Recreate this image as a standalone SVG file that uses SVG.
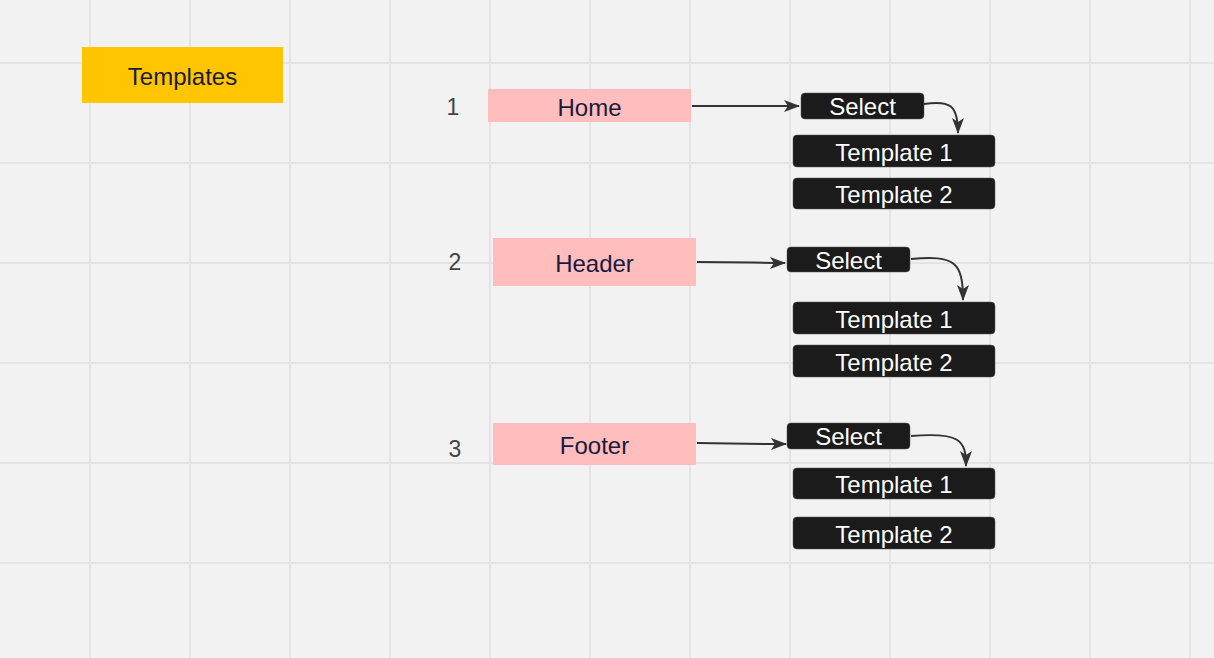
<svg xmlns="http://www.w3.org/2000/svg" width="1214" height="658" viewBox="0 0 1214 658">
<defs>
<style>
.grid{stroke:#e4e4e4;stroke-width:2}
.pink{fill:#ffbdbd}
.dark{fill:#1b1b1b;stroke:#555;stroke-width:0.5}
.lbl{font-family:"Liberation Sans",Arial,sans-serif;font-size:24px;text-anchor:middle;dominant-baseline:central}
.navy{fill:#1a1a3c}
.white{fill:#ffffff}
.num{font-family:"Liberation Sans",Arial,sans-serif;font-size:23px;fill:#444;text-anchor:middle;dominant-baseline:central}
.conn{fill:none;stroke:#333;stroke-width:2}
</style>
<marker id="ah2" viewBox="0 0 16 12" refX="15" refY="6" markerWidth="16" markerHeight="12" markerUnits="userSpaceOnUse" orient="auto">
<path d="M0,0 L16,6 L0,12 L4,6 Z" fill="#333"/>
</marker>
</defs>
<rect width="1214" height="658" fill="#f2f2f2"/>
<g id="grid">
<path class="grid" d="M90,0V658M190,0V658M290,0V658M390,0V658M490,0V658M590,0V658M690,0V658M790,0V658M890,0V658M990,0V658M1090,0V658M1190,0V658M0,63H1214M0,163H1214M0,263H1214M0,363H1214M0,463H1214M0,563H1214"/>
</g>
<g id="connectors">
<path class="conn" d="M692,106 L799,106" marker-end="url(#ah2)"/>
<path class="conn" d="M924,104 C950,100 958,105 958,133" marker-end="url(#ah2)"/>
<path class="conn" d="M697,262 C740,262 760,263 785,263" marker-end="url(#ah2)"/>
<path class="conn" d="M911,259 C955,255 963,262 963,300" marker-end="url(#ah2)"/>
<path class="conn" d="M697,443 C740,444 760,444 786,444" marker-end="url(#ah2)"/>
<path class="conn" d="M911,436 C960,432 966,440 966,466" marker-end="url(#ah2)"/>
</g>
<g id="templates"><rect x="82" y="47" width="201" height="56" fill="#ffc600"/><text class="lbl navy" x="182.5" y="76">Templates</text></g>
<g id="num1"><text class="num" x="453" y="107">1</text></g>
<g id="num2"><text class="num" x="455" y="262">2</text></g>
<g id="num3"><text class="num" x="455" y="449">3</text></g>
<g id="home"><rect class="pink" x="488" y="89" width="203" height="33"/><text class="lbl navy" x="589.5" y="107">Home</text></g>
<g id="header"><rect class="pink" x="493" y="238" width="203" height="48"/><text class="lbl navy" x="594.5" y="263">Header</text></g>
<g id="footer"><rect class="pink" x="493" y="423" width="203" height="42"/><text class="lbl navy" x="594.5" y="445">Footer</text></g>
<g id="select1"><rect class="dark" x="801" y="93" width="123" height="26" rx="4"/><text class="lbl white" x="862.5" y="106">Select</text></g>
<g id="t1a"><rect class="dark" x="793" y="135" width="202" height="32" rx="4"/><text class="lbl white" x="894" y="152">Template 1</text></g>
<g id="t2a"><rect class="dark" x="793" y="178" width="202" height="31" rx="4"/><text class="lbl white" x="894" y="194">Template 2</text></g>
<g id="select2"><rect class="dark" x="787" y="247" width="123" height="25" rx="4"/><text class="lbl white" x="848.5" y="260">Select</text></g>
<g id="t1b"><rect class="dark" x="793" y="302" width="202" height="32" rx="4"/><text class="lbl white" x="894" y="319">Template 1</text></g>
<g id="t2b"><rect class="dark" x="793" y="345" width="202" height="32" rx="4"/><text class="lbl white" x="894" y="362">Template 2</text></g>
<g id="select3"><rect class="dark" x="787" y="423" width="123" height="26" rx="4"/><text class="lbl white" x="848.5" y="436">Select</text></g>
<g id="t1c"><rect class="dark" x="793" y="468" width="202" height="31" rx="4"/><text class="lbl white" x="894" y="484">Template 1</text></g>
<g id="t2c"><rect class="dark" x="793" y="517" width="202" height="32" rx="4"/><text class="lbl white" x="894" y="534">Template 2</text></g>
</svg>
